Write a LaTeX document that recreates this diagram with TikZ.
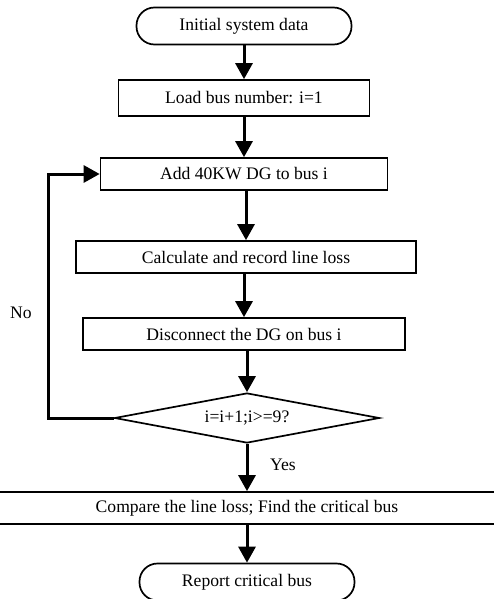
\documentclass[tikz,border=0pt]{standalone}
\usepackage{fontspec}
\setmainfont{Liberation Serif}
\usetikzlibrary{arrows.meta, positioning, shapes.geometric}

\begin{document}
\begin{tikzpicture}[
    x=1pt, y=-1pt,
    every node/.style={font=\fontsize{17.6}{20}\selectfont},
    arrow/.style={-{Triangle[length=16pt, width=17pt]}, line width=3pt},
    stepbox/.style={draw, line width=1.7pt, rectangle, inner sep=0pt, minimum height=#1},
    stepbox/.default=32pt,
    terminal/.style={draw, line width=1.7pt, rectangle, rounded corners=18pt,
        minimum width=215pt, minimum height=37pt, inner sep=0pt},
    decision/.style={draw, line width=1.7pt, diamond, aspect=5.3, inner sep=0pt,
        minimum width=265pt, minimum height=50pt}
]
\useasboundingbox (0,0) rectangle (494,599);
\clip (0,0) rectangle (494,599);

% === NODES ===
\node [terminal] (start) at (244,26) {Initial system data};
\node [stepbox=36pt, minimum width=251pt] (load) at (244,98) {Load bus number: i=1};
\node [stepbox, minimum width=287pt] (add) at (244,174) {Add 40KW DG to bus i};
\node [stepbox, minimum width=340pt] (calc) at (246,257) {Calculate and record line loss};
\node [stepbox, minimum width=322pt] (disc) at (244,334) {Disconnect the DG on bus i};
\node [decision] (check) at (247,418) {i=i+1;i>=9?};
\node [stepbox, minimum width=530pt] (comp) at (247,508) {Compare the line loss; Find the critical bus};
\node [terminal] (report) at (247,582) {Report critical bus};
\coordinate (back) at (48,418);

% === FLOW ARROWS ===
\draw[arrow] (start) -- (load);
\draw[arrow] (load) -- (add);
\draw[arrow] (add.south -| calc) -- (calc);
\draw[arrow] (calc.south -| disc) -- (disc);
\draw[arrow] (disc.south -| check) -- (check);
\draw[arrow] (check) -- (comp);
\draw[arrow] (comp) -- (report);

% === LOOP BACK ===
\draw[arrow] (check.west) -- (back) |- (add.west);

% === LABELS ===
\node (no) at (21,313) {No};
\node (yes) at (283,465) {Yes};

\end{tikzpicture}
\end{document}
